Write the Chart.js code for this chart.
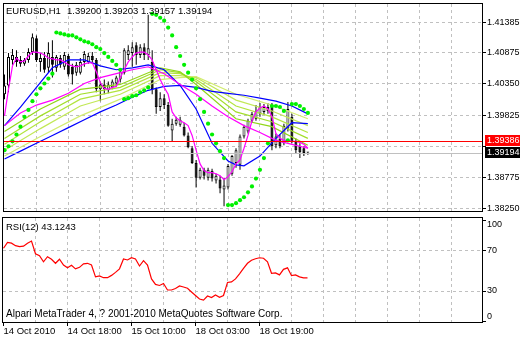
<!DOCTYPE html>
<html lang="en">
<head>
<meta charset="UTF-8">
<title>EURUSD,H1</title>
<script src="https://cdn.jsdelivr.net/npm/chart.js"></script>
<style>
  body { margin: 0; background: #fff; overflow: hidden; }
  .wrap { position: relative; width: 520px; height: 340px; background: #fff; }
  canvas { position: absolute; left: 0; }
</style>
</head>
<body>
<div class="wrap">
  <canvas id="priceChart" width="520" height="215" style="top:0"></canvas>
  <canvas id="rsiChart" width="520" height="125" style="top:215px"></canvas>
</div>
<script>
// ---- data (one entry per H1 bar) ----
const symbol = 'EURUSD,H1';
const lastBar = ['1.39200', '1.39203', '1.39157', '1.39194'];

const openP = [1.40176, 1.40324, 1.40753, 1.40803, 1.40753, 1.40687, 1.40753, 1.40885, 1.41116, 1.40720,
  1.40786, 1.40621, 1.40803, 1.40621, 1.40786, 1.40638, 1.40819, 1.40638, 1.40539, 1.40539,
  1.40720, 1.40720, 1.40819, 1.40753, 1.40258, 1.40341, 1.40242, 1.40291, 1.40357, 1.40423,
  1.40539, 1.40836, 1.40869, 1.41001, 1.40836, 1.40968, 1.40836, 1.40720, 1.40258, 1.39961,
  1.40110, 1.39994, 1.39565, 1.39681, 1.39664, 1.39631, 1.39483, 1.39268, 1.39021, 1.38773,
  1.38905, 1.38773, 1.38889, 1.38724, 1.38740, 1.38575, 1.38608, 1.38839, 1.39021, 1.38988,
  1.39466, 1.39549, 1.39730, 1.39763, 1.39846, 1.39879, 1.39961, 1.39961, 1.39318, 1.39433,
  1.39350, 1.39598, 1.39796, 1.39383, 1.39301, 1.39268, 1.39200];
const highP = [1.40506, 1.40869, 1.40935, 1.40918, 1.40819, 1.40786, 1.40951, 1.41199, 1.41166, 1.40869,
  1.40885, 1.41050, 1.41083, 1.40836, 1.40836, 1.40885, 1.40852, 1.40687, 1.40720, 1.40786,
  1.40902, 1.40869, 1.40885, 1.40786, 1.40390, 1.40423, 1.40390, 1.40423, 1.40489, 1.40588,
  1.40951, 1.41001, 1.41050, 1.41050, 1.41017, 1.41034, 1.41512, 1.40918, 1.40291, 1.40209,
  1.40176, 1.40044, 1.39763, 1.39796, 1.39796, 1.39697, 1.39532, 1.39301, 1.39070, 1.38938,
  1.38938, 1.38938, 1.38922, 1.38839, 1.38806, 1.38773, 1.39004, 1.39153, 1.39268, 1.39499,
  1.39664, 1.39763, 1.39879, 1.39994, 1.40027, 1.40011, 1.40027, 1.40027, 1.39516, 1.39499,
  1.39681, 1.40044, 1.39846, 1.39433, 1.39350, 1.39301, 1.39203];
const lowP = [1.40093, 1.40209, 1.40671, 1.40638, 1.40638, 1.40654, 1.40704, 1.40836, 1.40720, 1.40555,
  1.40539, 1.40539, 1.40456, 1.40555, 1.40621, 1.40588, 1.40473, 1.40341, 1.40489, 1.40506,
  1.40638, 1.40687, 1.40687, 1.40209, 1.40060, 1.40176, 1.40192, 1.40258, 1.40308, 1.40374,
  1.40506, 1.40753, 1.40638, 1.40671, 1.40786, 1.40753, 1.40753, 1.40176, 1.39846, 1.39895,
  1.39928, 1.39631, 1.39384, 1.39648, 1.39631, 1.39466, 1.39268, 1.39004, 1.38608, 1.38740,
  1.38740, 1.38724, 1.38707, 1.38674, 1.38509, 1.38294, 1.38575, 1.38806, 1.38938, 1.38905,
  1.39433, 1.39516, 1.39697, 1.39730, 1.39796, 1.39829, 1.39846, 1.39235, 1.39268, 1.39268,
  1.39318, 1.39549, 1.39350, 1.39186, 1.39103, 1.39136, 1.39157];
const closeP = [1.40324, 1.40803, 1.40836, 1.40720, 1.40687, 1.40753, 1.40885, 1.41133, 1.40753, 1.40786,
  1.40588, 1.40869, 1.40671, 1.40803, 1.40671, 1.40836, 1.40506, 1.40506, 1.40671, 1.40720,
  1.40852, 1.40819, 1.40753, 1.40258, 1.40341, 1.40258, 1.40341, 1.40390, 1.40456, 1.40555,
  1.40918, 1.40918, 1.40968, 1.40836, 1.40968, 1.40836, 1.40951, 1.40258, 1.39961, 1.40110,
  1.39994, 1.39648, 1.39681, 1.39747, 1.39747, 1.39483, 1.39285, 1.39021, 1.38773, 1.38905,
  1.38806, 1.38905, 1.38757, 1.38806, 1.38592, 1.38641, 1.38971, 1.39136, 1.39235, 1.39466,
  1.39631, 1.39730, 1.39846, 1.39895, 1.39961, 1.39961, 1.39895, 1.39301, 1.39466, 1.39301,
  1.39648, 1.39928, 1.39383, 1.39235, 1.39202, 1.39186, 1.39194];

// parabolic SAR dots
const sarP = [1.39235, 1.39301, 1.39384, 1.39499, 1.39631, 1.39796, 1.39912, 1.40060, 1.40176, 1.40275,
  1.40357, 1.40440, 1.40522, 1.41215, 1.41199, 1.41182, 1.41166, 1.41166, 1.41133, 1.41100,
  1.41066, 1.41050, 1.41017, 1.40968, 1.40935, 1.40869, 1.40803, 1.40736, 1.40671, 1.40588,
  1.40093, 1.40110, 1.40143, 1.40159, 1.40209, 1.40242, 1.40291, 1.41529, 1.41512, 1.41463,
  1.41413, 1.41298, 1.41166, 1.40968, 1.40819, 1.40671, 1.40539, 1.40423, 1.40275, 1.40093,
  1.39879, 1.39681, 1.39499, 1.39351, 1.39219, 1.39103, 1.38311, 1.38311, 1.38344, 1.38394,
  1.38443, 1.38526, 1.38625, 1.38757, 1.38905, 1.39103, 1.39351, 1.39978, 1.39978, 1.39961,
  1.39895, 1.39400, 1.40011, 1.40011, 1.39978, 1.39928, 1.39862];

// fast magenta MA, every bar
const maFast = [1.39812, 1.40258, 1.40654, 1.40786, 1.40720, 1.40736, 1.40819, 1.40885, 1.40885, 1.40869,
  1.40836, 1.40786, 1.40770, 1.40753, 1.40753, 1.40720, 1.40671, 1.40654, 1.40638, 1.40654,
  1.40687, 1.40704, 1.40704, 1.40555, 1.40374, 1.40275, 1.40258, 1.40291, 1.40308, 1.40456,
  1.40588, 1.40720, 1.40803, 1.40869, 1.40885, 1.40885, 1.40836, 1.40753, 1.40588, 1.40423,
  1.40291, 1.40176, 1.39879, 1.39780, 1.39730, 1.39697, 1.39648, 1.39483, 1.39235, 1.39004,
  1.38889, 1.38856, 1.38856, 1.38839, 1.38806, 1.38740, 1.38790, 1.38872, 1.39004, 1.39070,
  1.39268, 1.39483, 1.39730, 1.39879, 1.39945, 1.39978, 1.39928, 1.39796, 1.39516, 1.39433,
  1.39400, 1.39400, 1.39384, 1.39384, 1.39367, 1.39334, 1.39268];

// slower lines, read every few bars
const every4 = [0, 4, 8, 12, 16, 20, 24, 28, 32, 36, 40, 44, 48, 52, 56, 60, 64, 68, 72, 76];
const maSlowPink = [1.39648, 1.39862, 1.39994, 1.40077, 1.40192, 1.40357, 1.40456, 1.40522, 1.40588, 1.40638,
  1.40522, 1.40341, 1.40176, 1.39978, 1.39796, 1.39648, 1.39532, 1.39400, 1.39334, 1.39268];
const maLongBlue = [1.39087, 1.39219, 1.39351, 1.39483, 1.39615, 1.39747, 1.39879, 1.39994, 1.40126, 1.40242,
  1.40308, 1.40324, 1.40291, 1.40225, 1.40192, 1.40159, 1.40110, 1.40060, 1.39978, 1.39846];
const midBlueBars = [0, 4, 8, 12, 16, 20, 24, 28, 32, 36, 40, 44, 48, 52, 56, 58, 60, 64, 68, 72, 76];
const maMidBlue = [1.39648, 1.39961, 1.40291, 1.40621, 1.40753, 1.40753, 1.40654, 1.40588, 1.40621, 1.40671,
  1.40588, 1.40324, 1.39928, 1.39351, 1.39054, 1.38988, 1.38971, 1.39136, 1.39433, 1.39697, 1.39681];

const ribbonBars = [0, 9, 19, 29, 39, 44, 48, 58, 67, 76];
const ribbonA = [1.39549, 1.39928, 1.40258, 1.40341, 1.40621, 1.40555, 1.40341, 1.39763, 1.39631, 1.39318];
const ribbonB = [1.39433, 1.39812, 1.40176, 1.40291, 1.40588, 1.40539, 1.40390, 1.39879, 1.39714, 1.39433];
const ribbonC = [1.39334, 1.39714, 1.40093, 1.40242, 1.40539, 1.40522, 1.40423, 1.39978, 1.39796, 1.39532];
const ribbonD = [1.39235, 1.39598, 1.39978, 1.40176, 1.40489, 1.40489, 1.40456, 1.40077, 1.39895, 1.39648];
const ribbonE = [1.39136, 1.39466, 1.39812, 1.40093, 1.40423, 1.40456, 1.40472, 1.40176, 1.39994, 1.39763];

const rsi = [72.4, 78.3, 77.5, 75, 74, 74.5, 77.3, 79.6, 67, 65,
  59, 64, 61.5, 57.5, 61.5, 55.8, 53, 55.5, 52, 53.5,
  57, 57.5, 55.8, 44, 44.9, 43.2, 43.2, 45.5, 48.5, 52,
  61.8, 60.8, 63, 61.8, 54.8, 60.1, 55.8, 42, 36.5, 35.5,
  37.5, 31, 31, 32.5, 35, 34, 32.7, 29, 25.5, 22,
  21, 25, 23.5, 26, 23.7, 25.5, 38.5, 39, 42, 47,
  52.5, 57.5, 60.5, 62, 63, 62.5, 59, 47.6, 48, 46,
  51.5, 53, 45.2, 45.9, 44, 43, 43.1243];

const markLevel = 1.39386;   // red horizontal line
const bidLevel = 1.39194;    // grey bid line
const priceTicks = [1.38250, 1.38775, 1.39300, 1.39825, 1.40350, 1.40875, 1.41385];
const hiddenPriceTicks = [1.39300];
const rsiTicks = [0, 30, 70, 100];
const gridBars = [0, 8, 16, 24, 32, 40, 48, 56, 64, 72, 80, 88, 96, 104, 112];
const timeLabelBars = [0, 16, 32, 48, 64];
const timeLabels = ['14 Oct 2010', '14 Oct 18:00', '15 Oct 10:00', '18 Oct 03:00', '18 Oct 19:00'];
const rsiName = 'RSI(12)';
const copyright = 'Alpari MetaTrader 4, ? 2001-2010 MetaQuotes Software Corp.';

// ---- chart setup ----
const FONT = "'Liberation Sans', Arial, sans-serif";
const xMin = -0.125, xMax = 119.625;
const GRID = '#c0c0c0';
const NONE = 'rgba(0,0,0,0)';

const idx = closeP.map((_, i) => i);
const pts = (xs, ys) => xs.map((x, k) => ({ x: x, y: ys[k] }));

function lineSet(data, color, order) {
  return { type: 'line', data: data, borderColor: color, borderWidth: 1.2, pointRadius: 0, tension: 0, order: order };
}

const xGrid = s => { s.ticks = gridBars.map(v => ({ value: v })); };

const priceDecor = {
  id: 'priceDecor',
  afterDatasetsDraw(chart) {
    const { ctx, chartArea: a, scales: { y } } = chart;
    ctx.save();
    ctx.lineWidth = 1;
    [[bidLevel, GRID], [markLevel, '#ff0000']].forEach(([v, c]) => {
      const py = Math.round(y.getPixelForValue(v)) + 0.5;
      ctx.strokeStyle = c;
      ctx.beginPath();
      ctx.moveTo(a.left, py);
      ctx.lineTo(a.right, py);
      ctx.stroke();
    });
    ctx.restore();
  },
  afterDraw(chart) {
    const { ctx, chartArea: a, scales: { y } } = chart;
    ctx.save();
    ctx.strokeStyle = '#000';
    ctx.lineWidth = 1;
    ctx.strokeRect(a.left - 0.5, a.top - 0.5, a.right - a.left + 1, a.bottom - a.top + 1);
    ctx.fillStyle = '#000';
    ctx.textBaseline = 'middle';
    ctx.font = '9.5px ' + FONT;
    ctx.fillText(symbol, 6, 11);
    ctx.fillText(lastBar.join(' '), 67, 11);
    ctx.font = '9px ' + FONT;
    [[markLevel, '#ff0000'], [bidLevel, '#000']].forEach(([v, c]) => {
      const py = Math.round(y.getPixelForValue(v));
      ctx.fillStyle = c;
      ctx.fillRect(a.right + 3, py - 6, 38, 11);
      ctx.fillStyle = '#fff';
      ctx.fillText(v.toFixed(5), a.right + 5, py);
    });
    ctx.restore();
  }
};

const rsiDecor = {
  id: 'rsiDecor',
  afterDraw(chart) {
    const { ctx, chartArea: a, scales: { y } } = chart;
    ctx.save();
    ctx.strokeStyle = '#000';
    ctx.lineWidth = 1;
    ctx.strokeRect(a.left - 0.5, a.top - 0.5, a.right - a.left + 1, a.bottom - a.top + 1);
    ctx.fillStyle = '#000';
    ctx.textBaseline = 'middle';
    ctx.font = '9.5px ' + FONT;
    ctx.fillText(rsiName + ' ' + rsi[rsi.length - 1].toFixed(4), 6, a.top + 9);
    ctx.font = '9px ' + FONT;
    rsiTicks.forEach(v => {
      const py = Math.min(Math.max(y.getPixelForValue(v), a.top + 7), a.bottom - 5);
      ctx.fillText(String(v), a.right + 5, py);
    });
    ctx.font = '10px ' + FONT;
    ctx.fillText(copyright, 6, a.bottom - 8);
    ctx.restore();
  }
};

new Chart(document.getElementById('priceChart'), {
  type: 'line',
  data: {
    datasets: [
      { type: 'bar', data: idx.map(i => ({ x: i, y: [lowP[i], highP[i]] })), backgroundColor: '#000',
        barThickness: 1, maxBarThickness: 1, grouped: false, inflateAmount: 0, order: 20 },
      { type: 'bar', data: idx.map(i => ({ x: i, y: [openP[i], closeP[i]] })),
        backgroundColor: idx.map(i => closeP[i] >= openP[i] ? '#fff' : '#000'),
        borderColor: '#000', borderWidth: 1, borderSkipped: false, minBarLength: 1,
        barThickness: 3, maxBarThickness: 3, grouped: false, inflateAmount: 0, order: 19 },
      lineSet(pts(ribbonBars, ribbonE), '#d2ec70', 15),
      lineSet(pts(ribbonBars, ribbonD), '#c2e856', 14),
      lineSet(pts(ribbonBars, ribbonC), '#b2e43e', 13),
      lineSet(pts(ribbonBars, ribbonB), '#a2de2a', 12),
      lineSet(pts(ribbonBars, ribbonA), '#90d618', 11),
      lineSet(pts(every4, maLongBlue), '#0000ff', 10),
      lineSet(pts(midBlueBars, maMidBlue), '#0000ff', 9),
      lineSet(pts(every4, maSlowPink), '#ff00ff', 8),
      lineSet(pts(idx, maFast), '#ff00ff', 7),
      { type: 'line', data: pts(idx, sarP), showLine: false, pointStyle: 'circle', pointRadius: 2.1,
        pointBackgroundColor: '#00f000', pointBorderColor: '#00f000', pointBorderWidth: 0, order: 1 }
    ]
  },
  options: {
    responsive: false,
    animation: false,
    devicePixelRatio: 1,
    layout: { padding: { left: 3, top: 3, right: 0, bottom: 1 } },
    plugins: { legend: { display: false }, tooltip: { enabled: false } },
    scales: {
      x: {
        type: 'linear', min: xMin, max: xMax, offset: false,
        afterBuildTicks: xGrid,
        afterFit: s => { s.height = 0; s.paddingLeft = 0; s.paddingRight = 0; },
        border: { display: false, dash: [3, 3] },
        grid: { color: c => (c.tick && c.tick.value === 0) ? NONE : GRID, drawTicks: false, offset: false },
        ticks: { display: false }
      },
      y: {
        position: 'right', min: 1.38212, max: 1.41694,
        afterBuildTicks: s => { s.ticks = priceTicks.map(v => ({ value: v })); },
        afterFit: s => { s.width = 38; s.paddingTop = 0; s.paddingBottom = 0; },
        border: { display: false, dash: [3, 3] },
        grid: { color: GRID, tickLength: 4, tickColor: '#000', tickBorderDash: [] },
        ticks: {
          padding: 1, color: '#000', font: { family: FONT, size: 9 },
          callback: v => hiddenPriceTicks.includes(v) ? '' : v.toFixed(5)
        }
      }
    }
  },
  plugins: [priceDecor]
});

new Chart(document.getElementById('rsiChart'), {
  type: 'line',
  data: {
    datasets: [lineSet(pts(idx, rsi), '#ff0000', 1)]
  },
  options: {
    responsive: false,
    animation: false,
    devicePixelRatio: 1,
    layout: { padding: { left: 3, top: 3, right: 0, bottom: 0 } },
    plugins: { legend: { display: false }, tooltip: { enabled: false } },
    scales: {
      x: {
        type: 'linear', min: xMin, max: xMax, offset: false,
        afterBuildTicks: xGrid,
        afterFit: s => { s.height = 18; s.paddingLeft = 0; s.paddingRight = 0; },
        border: { display: false, dash: [3, 3] },
        grid: {
          color: c => (c.tick && c.tick.value === 0) ? NONE : GRID,
          tickLength: 4,
          tickColor: c => (c.tick && c.tick.label) ? '#000' : NONE,
          tickBorderDash: []
        },
        ticks: {
          autoSkip: false, maxRotation: 0, minRotation: 0, align: 'start', padding: 0,
          color: '#000', font: { family: FONT, size: 9.5 },
          callback: v => { const k = timeLabelBars.indexOf(v); return k < 0 ? '' : timeLabels[k]; }
        }
      },
      y: {
        position: 'right', min: -0.77, max: 102.46,
        afterBuildTicks: s => { s.ticks = rsiTicks.map(v => ({ value: v })); },
        afterFit: s => { s.width = 38; s.paddingTop = 0; s.paddingBottom = 0; },
        border: { display: false, dash: [3, 3] },
        grid: {
          color: c => (c.tick && (c.tick.value === 30 || c.tick.value === 70)) ? GRID : NONE,
          tickLength: 4, tickColor: '#000', tickBorderDash: []
        },
        ticks: { display: false }
      }
    }
  },
  plugins: [rsiDecor]
});
</script>
</body>
</html>
